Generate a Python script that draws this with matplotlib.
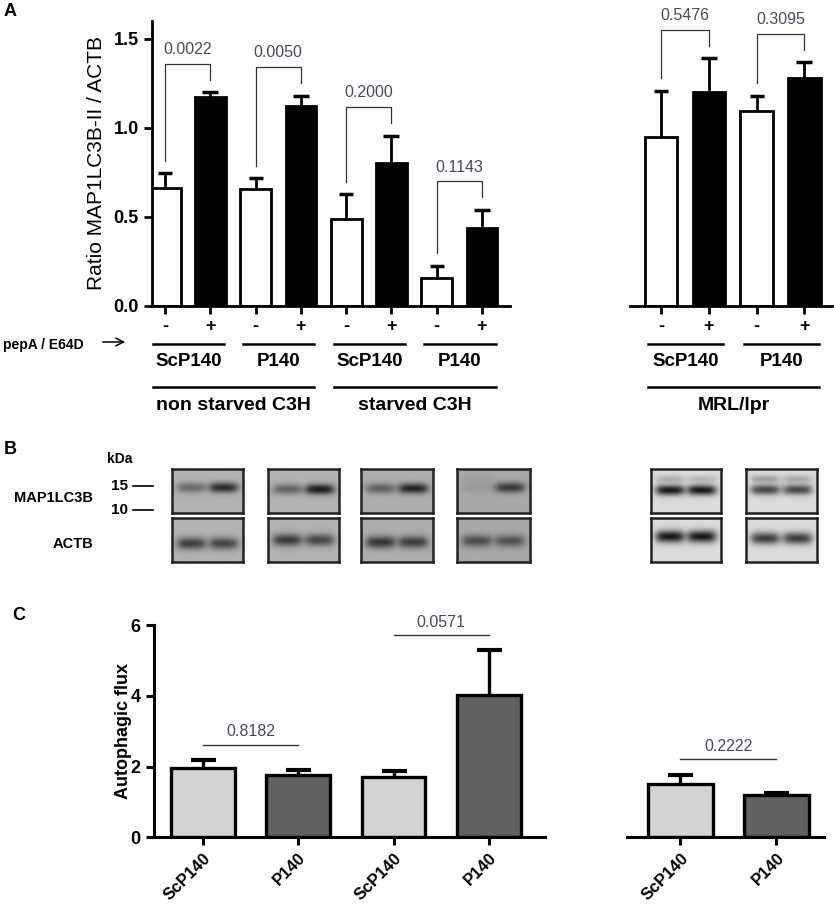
import numpy as np
import matplotlib
matplotlib.use("Agg")
import matplotlib.pyplot as plt
import matplotlib.transforms as mtransforms
from matplotlib.lines import Line2D

plt.rcParams['font.family'] = ['Liberation Sans', 'DejaVu Sans']

# ---- panel A: ratio MAP1LC3B-II / ACTB (C3H cells)
a_groups = ['ScP140', 'P140', 'ScP140', 'P140']
a_conditions = ['non starved C3H', 'starved C3H']
a_signs = ['-', '+']
a_minus = [0.66, 0.654, 0.487, 0.154]
a_minus_sem = [0.084, 0.062, 0.14, 0.071]
a_plus = [1.174, 1.12, 0.803, 0.438]
a_plus_sem = [0.026, 0.06, 0.152, 0.10]
a_pvals = ['0.0022', '0.0050', '0.2000', '0.1143']

# ---- panel A: MRL/lpr
mrl_groups = ['ScP140', 'P140']
mrl_condition = 'MRL/lpr'
mrl_minus = [0.949, 1.094]
mrl_minus_sem = [0.259, 0.086]
mrl_plus = [1.202, 1.278]
mrl_plus_sem = [0.188, 0.089]
mrl_pvals = ['0.5476', '0.3095']

# ---- panel B: blot band strengths (lane 1, lane 2)
lc3_ii = [[0.45, 0.85], [0.5, 0.95], [0.5, 0.9], [0.1, 0.75], [1.0, 1.0], [0.75, 0.75]]
lc3_i = [[0.0, 0.0], [0.0, 0.0], [0.0, 0.0], [0.08, 0.0], [0.22, 0.18], [0.3, 0.25]]
actb = [[0.72, 0.68], [0.75, 0.68], [0.78, 0.72], [0.62, 0.58], [1.0, 1.0], [0.8, 0.8]]
blot_bg = [0.70, 0.70, 0.68, 0.66, 0.86, 0.86]

# ---- panel C: autophagic flux
c_labels = ['ScP140', 'P140', 'ScP140', 'P140']
c_flux = [1.95, 1.76, 1.71, 4.01]
c_sem = [0.24, 0.14, 0.15, 1.27]
c_pvals = ['0.8182', '0.0571']
c_mrl_labels = ['ScP140', 'P140']
c_mrl_flux = [1.50, 1.20]
c_mrl_sem = [0.26, 0.06]
c_mrl_pval = '0.2222'

W, H = 834, 911
fig = plt.figure(figsize=(W / 100, H / 100), dpi=100)
PCOL = '#4d4858'


def add_ax(x0, y0, x1, y1):
    return fig.add_axes([x0 / W, 1 - y1 / H, (x1 - x0) / W, (y1 - y0) / H])


def fy(py):
    return 1 - py / H


def style_axes(ax, show_left=True, lw=2.0):
    for s in ['top', 'right']:
        ax.spines[s].set_visible(False)
    ax.spines['left'].set_visible(show_left)
    ax.spines['left'].set_linewidth(lw)
    ax.spines['bottom'].set_linewidth(lw)
    ax.tick_params(direction='out', length=6, width=lw)
    if not show_left:
        ax.set_yticks([])


def upper_err(ax, x, y, err, lw, capsize, capthick):
    eb = ax.errorbar(x, y, yerr=[np.zeros(len(x)), err], fmt='none', ecolor='black',
                     elinewidth=lw, capsize=capsize, capthick=capthick, zorder=3)
    eb[1][0].set_visible(False)  # hide the cap at the bar top


def bar_pairs(ax, minus, minus_sem, plus, plus_sem, pvals):
    n = len(minus)
    xm = np.arange(n) * 2
    xp = xm + 1
    ax.bar(xm, minus, width=0.68, color='white', edgecolor='black', linewidth=2, zorder=2)
    ax.bar(xp, plus, width=0.68, color='black', edgecolor='black', linewidth=2, zorder=2)
    upper_err(ax, xm, minus, minus_sem, 2, 5, 2.5)
    upper_err(ax, xp, plus, plus_sem, 2, 6, 2.5)
    for i in range(n):
        e1 = minus[i] + minus_sem[i]
        e2 = plus[i] + plus_sem[i]
        top = max(e1, e2) + 0.16
        ax.plot([xm[i], xm[i], xp[i], xp[i]], [e1 + 0.07, top, top, e2 + 0.07],
                color='#333333', lw=0.9, clip_on=False, zorder=4)
        ax.text((xm[i] + xp[i]) / 2, top + 0.08, pvals[i], ha='center', va='center',
                fontsize=11.5, color=PCOL, clip_on=False)
    ax.set_xticks(np.concatenate([xm, xp]))
    ax.set_xticklabels([a_signs[0]] * n + [a_signs[1]] * n, fontsize=13, fontweight='bold')
    ax.tick_params(axis='x', pad=3)
    ax.set_ylim(0, 1.6)
    return xm


def under_labels(ax, xm, groups, conds, per_cond):
    trans = mtransforms.blended_transform_factory(ax.transData, fig.transFigure)
    for i, g in enumerate(groups):
        x0, x1 = xm[i] - 0.27, xm[i] + 1.3
        ax.add_line(Line2D([x0, x1], [fy(343.5)] * 2, transform=trans, color='black',
                           lw=1.8, clip_on=False))
        ax.text((x0 + x1) / 2, fy(361), g, transform=trans, ha='center', va='center',
                fontsize=13.5, fontweight='bold')
    for j, c in enumerate(conds):
        x0 = xm[j * per_cond] - 0.27
        x1 = xm[j * per_cond + per_cond - 1] + 1.3
        ax.add_line(Line2D([x0, x1], [fy(386.5)] * 2, transform=trans, color='black',
                           lw=1.8, clip_on=False))
        ax.text((x0 + x1) / 2, fy(406), c, transform=trans, ha='center', va='center',
                fontsize=14, fontweight='bold')


# ---------------- panel A
axA = add_ax(152, 20.9, 510, 305.7)
style_axes(axA)
xmA = bar_pairs(axA, a_minus, a_minus_sem, a_plus, a_plus_sem, a_pvals)
axA.set_xlim(-0.29, 7.62)
axA.set_yticks([0, 0.5, 1.0, 1.5])
axA.set_yticklabels(['0.0', '0.5', '1.0', '1.5'], fontsize=13, fontweight='bold')
axA.set_ylabel('Ratio MAP1LC3B-II / ACTB', fontsize=15)
axA.yaxis.set_label_coords(-0.128, 0.5)
under_labels(axA, xmA, a_groups, a_conditions, 2)

axA2 = add_ax(630, 20.9, 832, 305.7)
style_axes(axA2, show_left=False)
xmA2 = bar_pairs(axA2, mrl_minus, mrl_minus_sem, mrl_plus, mrl_plus_sem, mrl_pvals)
axA2.set_xlim(-0.65, 3.58)
under_labels(axA2, xmA2, mrl_groups, [mrl_condition], 2)

fig.text(4 / W, fy(12), 'A', fontsize=13, fontweight='bold', va='center')
fig.text(3 / W, fy(345), 'pepA / E64D', fontsize=10, fontweight='bold', va='center')
plt.annotate('', xy=(128 / W, fy(342)), xytext=(100 / W, fy(342)), xycoords='figure fraction',
             arrowprops=dict(arrowstyle='->', lw=1.1, color='black', mutation_scale=14))

# ---------------- panel B
fig.text(4 / W, fy(450), 'B', fontsize=13, fontweight='bold', va='center')
fig.text(107 / W, fy(459), 'kDa', fontsize=10, fontweight='bold', va='center')
for lbl, py in [('15', 485.7), ('10', 510)]:
    fig.text(128 / W, fy(py), lbl, fontsize=11, fontweight='bold', va='center', ha='right')
    fig.add_artist(Line2D([133 / W, 153 / W], [fy(py)] * 2, color='black', lw=1.2))
fig.text(93 / W, fy(498), 'MAP1LC3B', fontsize=10.5, fontweight='bold', va='center', ha='right')
fig.text(93 / W, fy(544), 'ACTB', fontsize=10.5, fontweight='bold', va='center', ha='right')

blot_x = [(172, 243), (268, 339), (361, 433), (457, 530), (651, 721), (746, 817)]
lc3_y = [0.42, 0.46, 0.44, 0.42, 0.48, 0.47]
actb_y = [0.58, 0.5, 0.55, 0.52, 0.42, 0.46]
yy, xx = np.mgrid[0:1:60j, 0:1:100j]


def lane_mask(cx):
    return 1 / (1 + np.exp((np.abs(xx - cx) - 0.19) / 0.035))


def blot(ax, bg, bands):
    img = np.full(xx.shape, bg)
    for cy, sig, strengths in bands:
        for cx, s in zip([0.27, 0.73], strengths):
            img -= bg * 0.9 * s * lane_mask(cx) * np.exp(-0.5 * ((yy - cy) / sig) ** 2)
    ax.imshow(np.clip(img, 0.03, 1), cmap='gray', vmin=0, vmax=1, aspect='auto',
              interpolation='bilinear', extent=[0, 1, 1, 0])
    ax.set_xticks([])
    ax.set_yticks([])
    for s in ax.spines.values():
        s.set_linewidth(1.8)
        s.set_color('#222222')


for k, (x0, x1) in enumerate(blot_x):
    ax_top = add_ax(x0, 469, x1, 513)
    blot(ax_top, blot_bg[k], [(lc3_y[k], 0.085, lc3_ii[k]), (0.22, 0.06, lc3_i[k])])
    ax_bot = add_ax(x0, 518, x1, 562)
    blot(ax_bot, blot_bg[k], [(actb_y[k], 0.1, actb[k])])

# ---------------- panel C
fig.text(12 / W, fy(615), 'C', fontsize=13, fontweight='bold', va='center')


def flux_bars(ax, labels, flux, sem):
    x = np.arange(len(flux))
    cols = ['#d3d3d3' if i % 2 == 0 else '#606060' for i in x]
    ax.bar(x, flux, width=0.67, color=cols, edgecolor='black', linewidth=2.4, zorder=2)
    upper_err(ax, x, flux, sem, 2.4, 9, 3)
    ax.set_xticks(x)
    ax.set_xticklabels(labels, rotation=45, ha='right', rotation_mode='anchor',
                       fontsize=12, fontweight='bold')
    ax.set_ylim(0, 6)
    return x


def sig_line(ax, x0, x1, top, label):
    ax.plot([x0, x1], [top, top], color='#333333', lw=1.0, clip_on=False)
    ax.text((x0 + x1) / 2, top + 0.37, label, ha='center', va='center', fontsize=11.5,
            color=PCOL, clip_on=False)


axC = add_ax(154, 625, 545, 837.3)
style_axes(axC, lw=2.2)
xC = flux_bars(axC, c_labels, c_flux, c_sem)
axC.set_xlim(-0.514, 3.59)
axC.set_yticks([0, 2, 4, 6])
axC.set_yticklabels(['0', '2', '4', '6'], fontsize=13, fontweight='bold')
axC.set_ylabel('Autophagic flux', fontsize=13, fontweight='bold')
axC.yaxis.set_label_coords(-0.055, 0.5)
for i, p in enumerate(c_pvals):
    a, b = 2 * i, 2 * i + 1
    sig_line(axC, xC[a], xC[b], max(c_flux[a] + c_sem[a], c_flux[b] + c_sem[b]) + 0.43, p)

axC2 = add_ax(627, 625, 824, 837.3)
style_axes(axC2, show_left=False, lw=2.2)
xC2 = flux_bars(axC2, c_mrl_labels, c_mrl_flux, c_mrl_sem)
axC2.set_xlim(-0.557, 1.495)
sig_line(axC2, xC2[0], xC2[1],
         max(f + s for f, s in zip(c_mrl_flux, c_mrl_sem)) + 0.45, c_mrl_pval)

fig.savefig('out.png', dpi=100)
